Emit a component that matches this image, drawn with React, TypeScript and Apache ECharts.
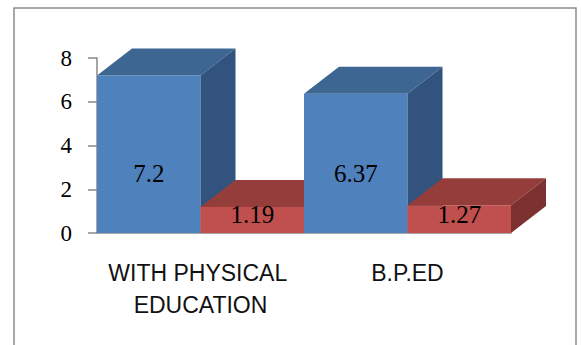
import React, { useEffect, useRef } from "react";
import * as echarts from "echarts";

const categories = ["WITH PHYSICAL EDUCATION", "B.P.ED"];
const seriesNames = ["Series 1", "Series 2"];
const blueValues = [7.2, 6.37];
const redValues = [1.19, 1.27];
const yTicks = [0, 2, 4, 6, 8];

const faceColors = [
  { front: "#4F81BD", top: "#3D6693", side: "#31537E" },
  { front: "#C0504D", top: "#953D3B", side: "#7C302F" },
];
const labelLift = [60, 19];

export default function App() {
  const ref = useRef<HTMLDivElement>(null);
  useEffect(() => {
    if (!ref.current) return;
    const chart = echarts.init(ref.current, null, { renderer: "svg" });
    const valueSets = [blueValues, redValues];
    const data: any[] = [];
    categories.forEach((_, ci) => {
      valueSets.forEach((vals, si) => {
        data.push([ci, vals[ci], si]);
      });
    });
    const dx = 35;
    const dy = -27;
    chart.setOption({
      animation: false,
      backgroundColor: "#ffffff",
      grid: { left: 97, right: 70, top: 58, bottom: 112, containLabel: false },
      xAxis: {
        type: "category",
        data: categories,
        axisLine: { show: true, lineStyle: { color: "#8a8a8a", width: 1.5 } },
        axisTick: { show: false },
        axisLabel: {
          interval: 0,
          margin: 24,
          color: "#111",
          fontFamily: "Liberation Sans",
          fontSize: 23,
          lineHeight: 32,
          width: 200,
          overflow: "break",
        },
        splitLine: { show: false },
      },
      yAxis: {
        type: "value",
        min: yTicks[0],
        max: yTicks[yTicks.length - 1],
        interval: 2,
        axisLine: { show: true, lineStyle: { color: "#8a8a8a", width: 1.5 } },
        axisTick: { show: true, length: 9, lineStyle: { color: "#8a8a8a", width: 1.5 } },
        axisLabel: {
          margin: 25,
          color: "#000",
          fontFamily: "Liberation Serif",
          fontSize: 23,
          verticalAlign: "middle",
        },
        splitLine: { show: false },
      },
      graphic: [
        {
          type: "rect",
          shape: { x: 14, y: 8, width: 562, height: 400 },
          style: { fill: "none", stroke: "#8c8c8c", lineWidth: 1.5 },
          silent: true,
        },
      ],
      series: [
        {
          type: "custom",
          name: seriesNames.join(" / "),
          data,
          encode: { x: 0, y: 1 },
          renderItem: (params: any, api: any) => {
            const cat = api.value(0);
            const val = api.value(1);
            const si = api.value(2);
            const base = api.coord([cat, 0]);
            const top = api.coord([cat, val]);
            const band = api.size([1, 0])[0];
            const half = band / 2;
            const x0 = base[0] - half + si * half;
            const x1 = x0 + half;
            const yT = top[1];
            const yB = base[1];
            const c = faceColors[si];
            return {
              type: "group",
              children: [
                {
                  type: "polygon",
                  shape: { points: [[x0, yT], [x1, yT], [x1, yB], [x0, yB]] },
                  style: { fill: c.front },
                },
                {
                  type: "polygon",
                  shape: { points: [[x0, yT], [x1, yT], [x1 + dx, yT + dy], [x0 + dx, yT + dy]] },
                  style: { fill: c.top },
                },
                {
                  type: "polygon",
                  shape: { points: [[x1, yT], [x1 + dx, yT + dy], [x1 + dx, yB + dy], [x1, yB]] },
                  style: { fill: c.side },
                },
                {
                  type: "text",
                  style: {
                    text: String(val),
                    x: (x0 + x1) / 2,
                    y: yB - labelLift[si],
                    align: "center",
                    verticalAlign: "middle",
                    fill: "#000",
                    font: "25px 'Liberation Serif'",
                  },
                },
              ],
            };
          },
        },
      ],
    });
    return () => chart.dispose();
  }, []);
  return (
    <div
      ref={ref}
      style={{ position: "fixed", left: 0, top: 0, width: 581, height: 345 }}
    />
  );
}
